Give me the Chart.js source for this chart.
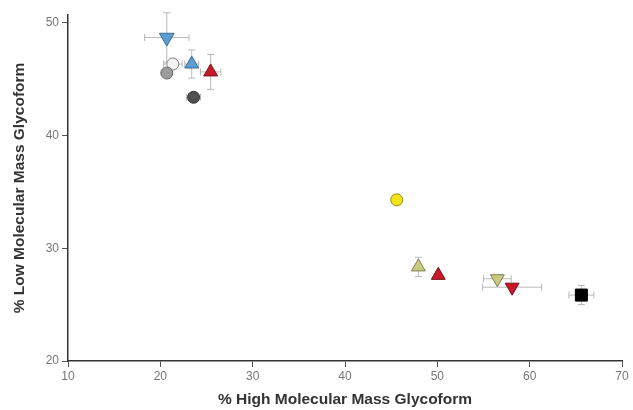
<!DOCTYPE html>
<html>
<head>
<meta charset="utf-8">
<script src="https://cdn.jsdelivr.net/npm/chart.js@4.4.1/dist/chart.umd.min.js"></script>
<style>
  html, body { margin: 0; padding: 0; background: #fff; }
  #wrap { width: 633px; height: 410px; }
</style>
</head>
<body>
<div id="wrap"><canvas id="myChart" width="633" height="410"></canvas></div>
<script>
// values, one entry per sample
const highMass = [20.7, 20.7, 21.35, 23.4, 25.45, 23.6, 45.6, 47.95, 50.1, 56.5, 58.1, 65.6]
const lowMass = [48.7, 45.55, 46.35, 46.35, 45.65, 43.4, 34.3, 28.35, 27.6, 27.3, 26.55, 25.85]
const highErr = [2.4, 0, 1.0, 0.75, 1.1, 0.75, 0, 0, 0, 1.5, 3.2, 1.35]
const lowErr = [2.2, 0, 0.5, 1.25, 1.55, 0, 0, 0.85, 0, 0, 0, 0.85]
const xTicks = [10, 20, 30, 40, 50, 60, 70]
const yTicks = [20, 30, 40, 50]

// marker look for each sample
const looks = [
  { style: 'triangle', rot: 180, fill: '#5b9dd3', line: '#3b6b96', r: 8.5 },
  { style: 'circle', rot: 0, fill: '#9c9c9c', line: '#666666', r: 6 },
  { style: 'circle', rot: 0, fill: '#f2f2f2', line: '#8a8a8a', r: 6 },
  { style: 'triangle', rot: 0, fill: '#5b9dd3', line: '#3b6b96', r: 8 },
  { style: 'triangle', rot: 0, fill: '#c8192b', line: '#7c0f1a', r: 8 },
  { style: 'circle', rot: 0, fill: '#505050', line: '#333333', r: 6 },
  { style: 'circle', rot: 0, fill: '#f2e31c', line: '#9c8c10', r: 6 },
  { style: 'triangle', rot: 0, fill: '#c9cb7c', line: '#7d7d55', r: 8 },
  { style: 'triangle', rot: 0, fill: '#c8192b', line: '#7c0f1a', r: 8 },
  { style: 'triangle', rot: 180, fill: '#c9cb7c', line: '#7d7d55', r: 8 },
  { style: 'triangle', rot: 180, fill: '#c8192b', line: '#7c0f1a', r: 8 },
  { style: 'rect', rot: 0, fill: '#000000', line: '#000000', r: 8.5 }
]

const errorBars = {
  id: 'errorBars',
  beforeDatasetsDraw(chart) {
    const { ctx, scales: { x, y } } = chart
    const cap = 3.5
    ctx.save()
    ctx.strokeStyle = '#b9b9b9'
    ctx.lineWidth = 1
    highMass.forEach((hx, i) => {
      const px = x.getPixelForValue(hx)
      const py = y.getPixelForValue(lowMass[i])
      if (highErr[i]) {
        const x0 = x.getPixelForValue(hx - highErr[i])
        const x1 = x.getPixelForValue(hx + highErr[i])
        ctx.beginPath()
        ctx.moveTo(x0, py); ctx.lineTo(x1, py)
        ctx.moveTo(x0, py - cap); ctx.lineTo(x0, py + cap)
        ctx.moveTo(x1, py - cap); ctx.lineTo(x1, py + cap)
        ctx.stroke()
      }
      if (lowErr[i]) {
        const y0 = y.getPixelForValue(lowMass[i] - lowErr[i])
        const y1 = y.getPixelForValue(lowMass[i] + lowErr[i])
        ctx.beginPath()
        ctx.moveTo(px, y0); ctx.lineTo(px, y1)
        ctx.moveTo(px - cap, y0); ctx.lineTo(px + cap, y0)
        ctx.moveTo(px - cap, y1); ctx.lineTo(px + cap, y1)
        ctx.stroke()
      }
    })
    ctx.restore()
  }
}

const datasets = highMass.map((hx, i) => ({
  data: [{ x: hx, y: lowMass[i] }],
  pointStyle: looks[i].style,
  rotation: looks[i].rot,
  pointRadius: looks[i].r,
  backgroundColor: looks[i].fill,
  borderColor: looks[i].line,
  borderWidth: 1
}))

const tickFont = { family: 'Liberation Sans, Arial, sans-serif', size: 12 }
const titleFont = { family: 'Liberation Sans, Arial, sans-serif', size: 15.5, weight: 'bold' }

new Chart(document.getElementById('myChart'), {
  type: 'scatter',
  data: { datasets },
  plugins: [errorBars],
  options: {
    responsive: false,
    animation: false,
    layout: { padding: { top: 15, right: 11, bottom: 0, left: 0 } },
    plugins: { legend: { display: false }, tooltip: { enabled: false } },
    scales: {
      x: {
        min: 10,
        max: 70,
        afterBuildTicks: (s) => { s.ticks = xTicks.map(v => ({ value: v })) },
        afterFit: (s) => { s.height = 49 },
        border: { color: '#333', width: 1.5 },
        grid: { drawOnChartArea: false, tickLength: 6, color: '#555' },
        ticks: { font: tickFont, color: '#777', padding: 2, maxRotation: 0 },
        title: { display: true, text: '% High Molecular Mass Glycoform', font: titleFont, color: '#333', padding: { top: 0, bottom: 1 } }
      },
      y: {
        min: 20,
        max: 50.7,
        afterBuildTicks: (s) => { s.ticks = yTicks.map(v => ({ value: v })) },
        afterFit: (s) => { s.width = 68 },
        border: { color: '#333', width: 1.5 },
        grid: { drawOnChartArea: false, tickLength: 6, color: '#555' },
        ticks: { font: tickFont, color: '#777', padding: 3 },
        title: { display: true, text: '% Low Molecular Mass Glycoform', font: titleFont, color: '#333', padding: { top: 10, bottom: 0 } }
      }
    }
  }
})
</script>
</body>
</html>
